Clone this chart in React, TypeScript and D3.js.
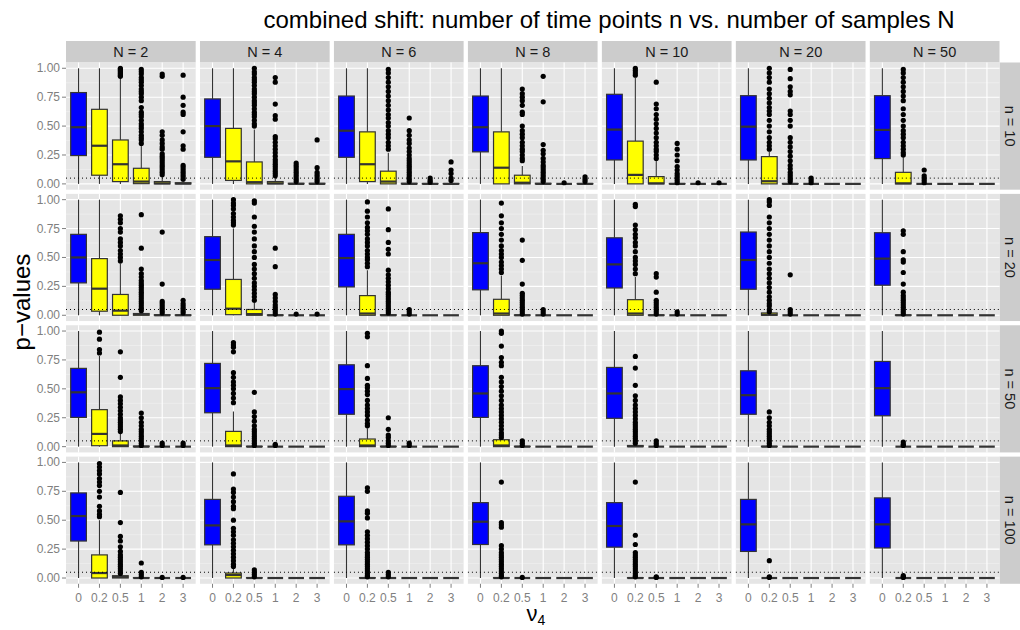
import React from 'react';
import * as d3 from 'd3';

const Ns = ['2', '4', '6', '8', '10', '20', '50'];
const ns = ['10', '20', '50', '100'];
const nus = ['0', '0.2', '0.5', '1', '2', '3'];
const yTicks = [0, 0.25, 0.5, 0.75, 1];
const yTickLabels = ['0.00', '0.25', '0.50', '0.75', '1.00'];
const yMinor = [0.125, 0.375, 0.625, 0.875];
const alpha = 0.05;

type Box = [number, number, number, number, number]; // lo, q1, med, q3, hi
const Z: Box = [0, 0, 0, 0, 0];

// ---- n = 10 ----
const stats_n10: Box[][] = [
  [[0, 0.245, 0.49, 0.79, 1], [0, 0.075, 0.33, 0.645, 1], [0, 0.02, 0.17, 0.38, 0.92], [0, 0.002, 0.02, 0.135, 0.33], [0, 0, 0.005, 0.02, 0.06], [0, 0, 0.003, 0.01, 0.025]],
  [[0, 0.23, 0.5, 0.735, 1], [0, 0.03, 0.195, 0.48, 1], [0, 0, 0.015, 0.19, 0.47], [0, 0, 0.005, 0.02, 0.05], [0, 0, 0, 0.005, 0.012], [0, 0, 0, 0.005, 0.012]],
  [[0, 0.23, 0.46, 0.76, 1], [0, 0.02, 0.17, 0.45, 1], [0, 0, 0.02, 0.11, 0.27], [0, 0, 0, 0.005, 0.012], [0, 0, 0, 0.003, 0.008], [0, 0, 0, 0.003, 0.008]],
  [[0, 0.277, 0.49, 0.76, 1], [0, 0, 0.14, 0.45, 1], [0, 0, 0.01, 0.075, 0.155], [0, 0, 0, 0.005, 0.012], [0, 0, 0, 0, 0.005], [0, 0, 0, 0.003, 0.008]],
  [[0, 0.207, 0.47, 0.775, 1], [0, 0, 0.078, 0.37, 0.92], [0, 0, 0.005, 0.063, 0.2], [0, 0, 0, 0.003, 0.008], [0, 0, 0, 0, 0.003], [0, 0, 0, 0, 0.003]],
  [[0, 0.207, 0.495, 0.763, 1], [0, 0, 0.023, 0.236, 0.28], [0, 0, 0, 0.003, 0.008], [0, 0, 0, 0, 0.003], Z, Z],
  [[0, 0.219, 0.467, 0.763, 1], [0, 0, 0.005, 0.1, 0.236], [0, 0, 0, 0, 0.003], Z, Z, Z],
];
const out_n10: number[][][] = [
  [[], [], [0.93, 0.94, 0.95, 0.96, 0.97, 0.98, 0.99, 1.0],
    [0.35, 0.38, 0.4, 0.42, 0.45, 0.48, 0.5, 0.52, 0.55, 0.58, 0.6, 0.62, 0.66, 0.72, 0.75, 0.78, 0.8, 0.82, 0.85, 0.88, 0.9, 0.92, 0.95, 0.97, 0.99],
    [0.08, 0.1, 0.12, 0.14, 0.16, 0.18, 0.2, 0.22, 0.24, 0.26, 0.3, 0.32, 0.35, 0.38, 0.42, 0.45, 0.93, 0.95],
    [0.04, 0.06, 0.08, 0.1, 0.12, 0.14, 0.16, 0.3, 0.33, 0.45, 0.6, 0.62, 0.68, 0.75, 0.94]],
  [[], [], [0.5, 0.52, 0.55, 0.58, 0.6, 0.62, 0.65, 0.68, 0.7, 0.72, 0.75, 0.78, 0.8, 0.82, 0.85, 0.88, 0.9, 0.92, 0.95, 0.97, 1.0],
    [0.07, 0.09, 0.11, 0.13, 0.15, 0.17, 0.19, 0.21, 0.24, 0.27, 0.3, 0.33, 0.36, 0.39, 0.41, 0.56, 0.59, 0.69, 0.88, 0.92],
    [0.02, 0.04, 0.06, 0.08, 0.1, 0.12, 0.14, 0.16, 0.18],
    [0.02, 0.04, 0.06, 0.08, 0.1, 0.14, 0.38]],
  [[], [], [0.3, 0.33, 0.36, 0.4, 0.43, 0.46, 0.5, 0.53, 0.57, 0.6, 0.64, 0.68, 0.72, 0.76, 0.8, 0.84, 0.88, 0.92, 0.96, 0.99],
    [0.02, 0.04, 0.06, 0.08, 0.1, 0.12, 0.14, 0.16, 0.18, 0.2, 0.22, 0.25, 0.28, 0.31, 0.35, 0.38, 0.42, 0.46, 0.57],
    [0.015, 0.03, 0.05],
    [0.03, 0.05, 0.09, 0.12, 0.19]],
  [[], [], [0.2, 0.22, 0.25, 0.28, 0.3, 0.33, 0.36, 0.4, 0.43, 0.46, 0.5, 0.6, 0.62, 0.68, 0.72, 0.75, 0.78, 0.82],
    [0.02, 0.04, 0.06, 0.08, 0.1, 0.12, 0.14, 0.16, 0.19, 0.22, 0.26, 0.29, 0.34, 0.71, 0.93],
    [0.01],
    [0.02, 0.04, 0.06]],
  [[], [0.94, 0.96, 0.98, 1.0],
    [0.22, 0.25, 0.28, 0.3, 0.33, 0.36, 0.4, 0.44, 0.48, 0.52, 0.56, 0.6, 0.65, 0.69, 0.88],
    [0.01, 0.03, 0.05, 0.07, 0.09, 0.12, 0.15, 0.2, 0.25, 0.3, 0.35],
    [0.01], [0.01]],
  [[], [0.3, 0.33, 0.36, 0.4, 0.45, 0.5, 0.55, 0.6, 0.63, 0.66, 0.7, 0.74, 0.78, 0.82, 0.88, 0.92, 0.96, 1.0],
    [0.02, 0.04, 0.06, 0.08, 0.1, 0.13, 0.16, 0.2, 0.24, 0.28, 0.32, 0.36, 0.4, 0.5, 0.55, 0.6, 0.63, 0.77, 0.8, 0.84, 0.91, 0.99],
    [0.01, 0.03, 0.05], [], []],
  [[], [0.25, 0.27, 0.3, 0.33, 0.36, 0.4, 0.43, 0.46, 0.5, 0.55, 0.6, 0.65, 0.72, 0.76, 0.8, 0.84, 0.88, 0.92, 0.96, 0.99],
    [0.01, 0.03, 0.05, 0.07, 0.12], [], [], []],
];

// ---- n = 20 ----
const stats_n20: Box[][] = [
  [[0, 0.28, 0.5, 0.7, 1], [0, 0.035, 0.23, 0.49, 1], [0, 0, 0.04, 0.18, 0.45], [0, 0, 0.01, 0.015, 0.035], [0, 0, 0, 0.005, 0.012], [0, 0, 0, 0.003, 0.008]],
  [[0, 0.225, 0.478, 0.68, 1], [0, 0.005, 0.057, 0.31, 0.75], [0, 0, 0.01, 0.05, 0.115], [0, 0, 0, 0.003, 0.008], [0, 0, 0, 0, 0.005], [0, 0, 0, 0, 0.005]],
  [[0, 0.245, 0.495, 0.7, 1], [0, 0, 0.015, 0.17, 0.39], [0, 0, 0, 0.005, 0.012], [0, 0, 0, 0, 0.005], Z, Z],
  [[0, 0.22, 0.45, 0.715, 1], [0, 0, 0.015, 0.138, 0.345], [0, 0, 0, 0.003, 0.008], [0, 0, 0, 0, 0.005], Z, Z],
  [[0, 0.236, 0.44, 0.67, 1], [0, 0, 0.015, 0.135, 0.33], [0, 0, 0, 0.003, 0.008], [0, 0, 0, 0, 0.003], Z, Z],
  [[0, 0.225, 0.478, 0.72, 1], [0, 0, 0.005, 0.02, 0.03], [0, 0, 0, 0, 0.005], Z, Z, Z],
  [[0, 0.26, 0.49, 0.714, 1], [0, 0, 0, 0.003, 0.008], Z, Z, Z, Z],
];
const out_n20: number[][][] = [
  [[], [], [0.47, 0.5, 0.53, 0.56, 0.6, 0.63, 0.66, 0.72, 0.75, 0.8, 0.83, 0.86],
    [0.04, 0.06, 0.08, 0.1, 0.12, 0.14, 0.16, 0.18, 0.2, 0.22, 0.24, 0.26, 0.28, 0.3, 0.33, 0.36, 0.4, 0.58, 0.87],
    [0.02, 0.04, 0.06, 0.08, 0.1, 0.12, 0.27, 0.72],
    [0.02, 0.04, 0.06, 0.08, 0.1, 0.13]],
  [[], [0.78, 0.8, 0.82, 0.85, 0.88, 0.92, 0.95, 0.97, 1.0],
    [0.13, 0.16, 0.19, 0.22, 0.25, 0.28, 0.32, 0.36, 0.4, 0.44, 0.5, 0.55, 0.6, 0.66, 0.72, 0.77, 0.85, 0.97, 0.99],
    [0.01, 0.03, 0.05, 0.07, 0.09, 0.12, 0.15, 0.18, 0.42, 0.58], [0.01], [0.01]],
  [[], [0.42, 0.45, 0.48, 0.5, 0.53, 0.56, 0.6, 0.63, 0.66, 0.7, 0.73, 0.76, 0.8, 0.85, 0.9, 0.98],
    [0.02, 0.04, 0.06, 0.08, 0.1, 0.12, 0.14, 0.16, 0.18, 0.2, 0.23, 0.26, 0.29, 0.32, 0.35, 0.39, 0.53, 0.57, 0.63, 0.74, 0.92],
    [0.01, 0.03, 0.05], [], []],
  [[], [0.37, 0.4, 0.43, 0.46, 0.5, 0.53, 0.56, 0.6, 0.65, 0.7, 0.75, 0.8, 0.86, 0.97],
    [0.01, 0.03, 0.05, 0.07, 0.09, 0.11, 0.13, 0.15, 0.17, 0.19, 0.27, 0.475, 0.65],
    [0.01, 0.03, 0.05], [], []],
  [[], [0.36, 0.4, 0.44, 0.47, 0.5, 0.55, 0.6, 0.63, 0.67, 0.7, 0.74, 0.78, 0.94, 0.96],
    [0.01, 0.03, 0.05, 0.07, 0.09, 0.11, 0.13, 0.2, 0.33, 0.36],
    [0.01, 0.03], [], []],
  [[], [0.03, 0.05, 0.08, 0.1, 0.13, 0.16, 0.2, 0.24, 0.28, 0.32, 0.36, 0.4, 0.45, 0.5, 0.55, 0.6, 0.65, 0.7, 0.75, 0.8, 0.85, 0.95, 0.98, 1.0],
    [0.01, 0.03, 0.05, 0.35], [], [], []],
  [[], [0.01, 0.03, 0.05, 0.07, 0.09, 0.11, 0.13, 0.15, 0.17, 0.2, 0.27, 0.37, 0.46, 0.48, 0.55, 0.7, 0.73], [], [], [], []],
];

// ---- n = 50 ----
const stats_n50: Box[][] = [
  [[0, 0.253, 0.47, 0.677, 1], [0, 0.008, 0.11, 0.32, 0.785], [0, 0, 0.01, 0.05, 0.11], [0, 0, 0, 0.005, 0.01], [0, 0, 0, 0, 0.005], [0, 0, 0, 0, 0.005]],
  [[0, 0.293, 0.506, 0.72, 1], [0, 0, 0.01, 0.132, 0.305], [0, 0, 0, 0.003, 0.008], [0, 0, 0, 0, 0.005], Z, Z],
  [[0, 0.28, 0.498, 0.708, 1], [0, 0, 0.01, 0.066, 0.16], [0, 0, 0, 0.003, 0.008], [0, 0, 0, 0, 0.005], Z, Z],
  [[0, 0.253, 0.46, 0.7, 1], [0, 0, 0.01, 0.06, 0.07], [0, 0, 0, 0.003, 0.008], Z, Z, Z],
  [[0, 0.245, 0.46, 0.685, 1], [0, 0, 0.003, 0.01, 0.02], [0, 0, 0, 0, 0.005], Z, Z, Z],
  [[0, 0.28, 0.445, 0.656, 1], [0, 0, 0, 0.003, 0.008], Z, Z, Z, Z],
  [[0, 0.267, 0.506, 0.737, 1], [0, 0, 0, 0, 0.003], Z, Z, Z, Z],
];
const out_n50: number[][][] = [
  [[], [0.81, 0.84, 0.93, 0.99],
    [0.13, 0.15, 0.17, 0.19, 0.21, 0.23, 0.25, 0.28, 0.31, 0.34, 0.37, 0.4, 0.43, 0.6, 0.82],
    [0.01, 0.03, 0.05, 0.07, 0.09, 0.11, 0.13, 0.15, 0.18, 0.21, 0.25, 0.29], [0.01, 0.03], [0.01, 0.03]],
  [[], [0.38, 0.42, 0.46, 0.5, 0.53, 0.56, 0.6, 0.64, 0.82, 0.86, 0.88, 0.9],
    [0.01, 0.03, 0.05, 0.07, 0.09, 0.11, 0.13, 0.15, 0.18, 0.22, 0.26, 0.3, 0.47],
    [0.01, 0.02], [], []],
  [[], [0.18, 0.2, 0.23, 0.27, 0.3, 0.33, 0.36, 0.4, 0.45, 0.48, 0.51, 0.53, 0.59, 0.7, 0.95, 0.98],
    [0.01, 0.03, 0.05, 0.08, 0.1, 0.15, 0.25], [0.01, 0.03], [], []],
  [[], [0.08, 0.1, 0.12, 0.15, 0.18, 0.21, 0.24, 0.27, 0.3, 0.33, 0.36, 0.4, 0.44, 0.48, 0.52, 0.56, 0.6, 0.7, 0.73, 0.77, 0.87, 0.98, 1.0],
    [0.01, 0.03, 0.05], [], [], []],
  [[], [0.03, 0.05, 0.07, 0.09, 0.11, 0.13, 0.15, 0.17, 0.19, 0.21, 0.24, 0.27, 0.3, 0.33, 0.36, 0.4, 0.44, 0.53, 0.68, 0.78],
    [0.01, 0.03, 0.05], [], [], []],
  [[], [0.01, 0.03, 0.05, 0.07, 0.09, 0.11, 0.13, 0.15, 0.18, 0.21, 0.25, 0.3], [], [], [], []],
  [[], [0.01, 0.02, 0.04], [], [], [], []],
];

// ---- n = 100 ----
const stats_n100: Box[][] = [
  [[0, 0.32, 0.536, 0.736, 1], [0, 0, 0.043, 0.2, 0.5], [0, 0, 0.01, 0.02, 0.04], [0, 0, 0, 0.003, 0.008], [0, 0, 0, 0, 0.005], [0, 0, 0, 0, 0.005]],
  [[0, 0.287, 0.455, 0.68, 1], [0, 0, 0.026, 0.043, 0.1], [0, 0, 0, 0.003, 0.008], Z, Z, Z],
  [[0, 0.287, 0.49, 0.707, 1], [0, 0, 0, 0.003, 0.008], [0, 0, 0, 0, 0.005], Z, Z, Z],
  [[0, 0.29, 0.487, 0.652, 1], [0, 0, 0, 0.003, 0.008], Z, Z, Z, Z],
  [[0, 0.267, 0.45, 0.652, 1], [0, 0, 0, 0.003, 0.008], Z, Z, Z, Z],
  [[0, 0.23, 0.464, 0.68, 1], Z, Z, Z, Z, Z],
  [[0, 0.26, 0.464, 0.693, 1], Z, Z, Z, Z, Z],
];
const out_n100: number[][][] = [
  [[], [0.53, 0.55, 0.58, 0.62, 0.7, 0.75, 0.8, 0.83, 0.86, 0.9, 0.93, 0.96, 0.99],
    [0.04, 0.06, 0.08, 0.1, 0.12, 0.14, 0.16, 0.18, 0.2, 0.23, 0.27, 0.32, 0.36, 0.48, 0.74],
    [0.01, 0.03, 0.05, 0.13], [0.005], [0.005]],
  [[], [0.1, 0.12, 0.15, 0.18, 0.21, 0.24, 0.27, 0.3, 0.33, 0.37, 0.4, 0.43, 0.5, 0.6, 0.62, 0.66, 0.7, 0.74, 0.77, 0.9],
    [0.01, 0.03, 0.05, 0.07], [], [], []],
  [[], [0.01, 0.02, 0.04, 0.06, 0.08, 0.1, 0.12, 0.14, 0.16, 0.18, 0.2, 0.22, 0.25, 0.28, 0.31, 0.34, 0.37, 0.4, 0.52, 0.56, 0.58, 0.75, 0.78],
    [0.01, 0.03, 0.05], [], [], []],
  [[], [0.01, 0.02, 0.04, 0.06, 0.08, 0.1, 0.12, 0.14, 0.16, 0.18, 0.2, 0.22, 0.25, 0.28, 0.44, 0.46, 0.48, 0.83], [0.005], [], [], []],
  [[], [0.01, 0.02, 0.04, 0.06, 0.08, 0.1, 0.12, 0.14, 0.16, 0.18, 0.2, 0.22, 0.29, 0.37, 0.83], [0.005, 0.01], [], [], []],
  [[], [0.005, 0.01, 0.15], [], [], [], []],
  [[], [0.005, 0.01, 0.02], [], [], [], []],
];

const statsByRow = [stats_n10, stats_n20, stats_n50, stats_n100];
const outByRow = [out_n10, out_n20, out_n50, out_n100];

const FONT = '"Liberation Sans", Arial, Helvetica, sans-serif';

export default function App() {
  const W = 1020, H = 630;
  const left = 66, right = 999.5, top = 62.5, bottom = 583.8;
  const colScale = d3.scaleBand<string>().domain(Ns).range([left, right]).paddingInner(0.032);
  const rowScale = d3.scaleBand<string>().domain(ns).range([top, bottom]).paddingInner(0.032);
  const pw = colScale.bandwidth();
  const ph = rowScale.bandwidth();
  const xIn = d3.scalePoint<string>().domain(nus).range([0, pw]).padding(0.6);
  const step = xIn.step();
  const boxW = step * 0.75;
  const yIn = d3.scaleLinear().domain([-0.05, 1.05]).range([ph, 0]);

  const panels: React.ReactNode[] = [];
  ns.forEach((nv, ri) => {
    Ns.forEach((Nv, ci) => {
      const px = colScale(Nv)!;
      const py = rowScale(nv)!;
      const st = statsByRow[ri][ci];
      const ou = outByRow[ri][ci];
      panels.push(
        <g key={`p-${ri}-${ci}`} transform={`translate(${px},${py})`}>
          <rect x={0} y={0} width={pw} height={ph} fill="#E5E5E5" />
          {yMinor.map((t) => (
            <line key={`mi${t}`} x1={0} x2={pw} y1={yIn(t)} y2={yIn(t)} stroke="#F2F2F2" strokeWidth={0.6} />
          ))}
          {yTicks.map((t) => (
            <line key={`ma${t}`} x1={0} x2={pw} y1={yIn(t)} y2={yIn(t)} stroke="#FFFFFF" strokeWidth={1.1} />
          ))}
          {nus.map((c) => (
            <line key={`v${c}`} x1={xIn(c)!} x2={xIn(c)!} y1={0} y2={ph} stroke="#FFFFFF" strokeWidth={1.1} />
          ))}
          {nus.map((c, k) => {
            const [lo, q1, med, q3, hi] = st[k];
            const cx = xIn(c)!;
            const fill = k === 0 ? '#0000FF' : '#FFFF00';
            return (
              <g key={`b${c}`}>
                <line x1={cx} x2={cx} y1={yIn(hi)} y2={yIn(q3)} stroke="#333333" strokeWidth={1.1} />
                <line x1={cx} x2={cx} y1={yIn(q1)} y2={yIn(lo)} stroke="#333333" strokeWidth={1.1} />
                <rect x={cx - boxW / 2} y={yIn(q3)} width={boxW} height={Math.max(0, yIn(q1) - yIn(q3))} fill={fill} stroke="#333333" strokeWidth={1.2} />
                <line x1={cx - boxW / 2} x2={cx + boxW / 2} y1={yIn(med)} y2={yIn(med)} stroke="#333333" strokeWidth={2.2} />
                {ou[k].map((v, j) => (
                  <circle key={j} cx={cx} cy={yIn(v)} r={2.6} fill="#000000" />
                ))}
              </g>
            );
          })}
          <line x1={0} x2={pw} y1={yIn(alpha)} y2={yIn(alpha)} stroke="#000000" strokeWidth={1} strokeDasharray="1,3" />
        </g>
      );
    });
  });

  const stripH = 21.5;

  return (
    <svg width={W} height={H} style={{ position: 'absolute', left: 0, top: 0, background: '#FFFFFF' }} fontFamily={FONT}>
      <rect x={0} y={0} width={W} height={H} fill="#FFFFFF" />
      <text x={609} y={28} textAnchor="middle" fontSize={24} fill="#000000">
        combined shift: number of time points n vs. number of samples N
      </text>
      {Ns.map((Nv) => (
        <g key={`s${Nv}`}>
          <rect x={colScale(Nv)!} y={top - stripH} width={pw} height={stripH} fill="#CCCCCC" />
          <text x={colScale(Nv)! + pw / 2} y={top - stripH / 2 + 5} textAnchor="middle" fontSize={14.5} fill="#1A1A1A">
            {`N = ${Nv}`}
          </text>
        </g>
      ))}
      {ns.map((nv) => {
        const cy = rowScale(nv)! + ph / 2;
        const cx = right + stripH / 2;
        return (
          <g key={`r${nv}`}>
            <rect x={right} y={rowScale(nv)!} width={stripH} height={ph} fill="#CCCCCC" />
            <text transform={`translate(${cx - 5},${cy}) rotate(90)`} textAnchor="middle" fontSize={14.5} fill="#1A1A1A">
              {`n = ${nv}`}
            </text>
          </g>
        );
      })}
      {panels}
      {ns.map((nv) => {
        const py = rowScale(nv)!;
        return (
          <g key={`ya${nv}`}>
            {yTicks.map((t, i) => (
              <g key={t}>
                <line x1={left - 4} x2={left} y1={py + yIn(t)} y2={py + yIn(t)} stroke="#7F7F7F" strokeWidth={1} />
                <text x={left - 6} y={py + yIn(t) + 4} textAnchor="end" fontSize={12} fill="#7F7F7F">
                  {yTickLabels[i]}
                </text>
              </g>
            ))}
          </g>
        );
      })}
      {Ns.map((Nv) => {
        const px = colScale(Nv)!;
        return (
          <g key={`xa${Nv}`}>
            {nus.map((c) => (
              <g key={c}>
                <line x1={px + xIn(c)!} x2={px + xIn(c)!} y1={bottom} y2={bottom + 4} stroke="#7F7F7F" strokeWidth={1} />
                <text x={px + xIn(c)!} y={bottom + 18} textAnchor="middle" fontSize={12} fill="#7F7F7F">
                  {c}
                </text>
              </g>
            ))}
          </g>
        );
      })}
      <text transform={`translate(30,302) rotate(-90)`} textAnchor="middle" fontSize={24} fill="#000000">
        p−values
      </text>
      <text x={536} y={621} textAnchor="middle" fontSize={22} fill="#000000">
        ν<tspan fontSize={14} dy={4}>4</tspan>
      </text>
    </svg>
  );
}
